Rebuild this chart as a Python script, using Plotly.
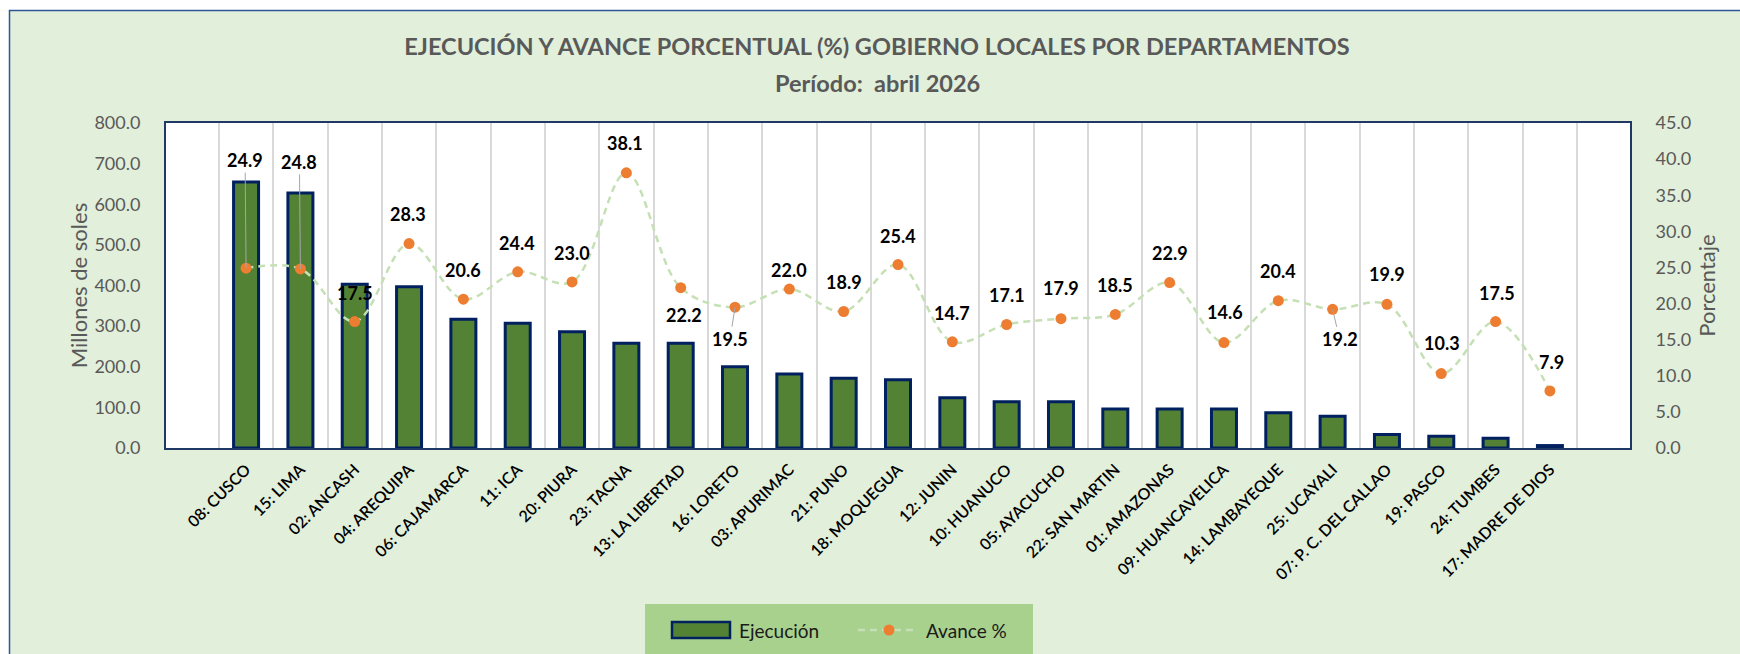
import plotly.graph_objects as go
from plotly.subplots import make_subplots

# ---------------- data ----------------
departamentos = [
    "08: CUSCO", "15: LIMA", "02: ANCASH", "04: AREQUIPA", "06: CAJAMARCA",
    "11: ICA", "20: PIURA", "23: TACNA", "13: LA LIBERTAD", "16: LORETO",
    "03: APURIMAC", "21: PUNO", "18: MOQUEGUA", "12: JUNIN", "10: HUANUCO",
    "05: AYACUCHO", "22: SAN MARTIN", "01: AMAZONAS", "09: HUANCAVELICA",
    "14: LAMBAYEQUE", "25: UCAYALI", "07: P. C. DEL CALLAO", "19: PASCO",
    "24: TUMBES", "17: MADRE DE DIOS",
]
ejecucion = [655, 628, 403, 397, 317, 307, 286, 258, 258, 200,
             182, 172, 168, 124, 114, 114, 96, 96, 96, 87,
             78, 33, 29, 24, 6]
avance = [24.9, 24.8, 17.5, 28.3, 20.6, 24.4, 23.0, 38.1, 22.2, 19.5,
          22.0, 18.9, 25.4, 14.7, 17.1, 17.9, 18.5, 22.9, 14.6, 20.4,
          19.2, 19.9, 10.3, 17.5, 7.9]
serie_bar = "Ejecución"
serie_line = "Avance %"

# label placement (styling): pixel offsets of each data label from its marker
label_dx = [-1, -1, 0, -1, 0, -1, 0, -1, 3, -5,
            0, 0, 0, 0, 0, 0, 0, 0, 1, 0,
            7, 0, 1, 1, 2]
label_dy = [-108, -107, -29, -30, -29, -29, -29, -30, 27, 32,
            -19, -30, -29, -29, -30, -31, -29, -30, -31, -30,
            30, -30, -31, -29, -29]
leader = [True, True, False, False, False, False, False, False, False, True,
          False, False, False, False, False, False, False, False, False, False,
          True, False, False, False, False]

# ---------------- layout geometry ----------------
W, H = 1740, 654
ML, MR, MT, MB = 166, 110, 123, 206
PW, PH = W - ML - MR, H - MT - MB


def px2x(px):
    return (px - ML) / PW


def py2y(py):
    return (H - MB - py) / PH


FONT = "Lato"
GREY = "#595959"
NAVY = "#002060"
BAR_FILL = "#548235"
LINE_COL = "#C5E0B4"
MARK_COL = "#ED7D31"

fig = make_subplots(specs=[[{"secondary_y": True}]])

fig.add_trace(
    go.Bar(
        x=departamentos, y=ejecucion, name=serie_bar, showlegend=False,
        marker=dict(color=BAR_FILL, line=dict(color=NAVY, width=3)),
    ),
    secondary_y=False,
)
fig.add_trace(
    go.Scatter(
        x=departamentos, y=avance, name=serie_line, mode="lines+markers", showlegend=False,
        line=dict(color=LINE_COL, width=2.5, dash="7px,5px", shape="spline", smoothing=1),
        marker=dict(color=MARK_COL, size=11),
    ),
    secondary_y=True,
)

annotations = []
for cat, v, dx, dy, ld in zip(departamentos, avance, label_dx, label_dy, leader):
    annotations.append(dict(
        x=cat, y=v, xref="x", yref="y2", text=f"<b>{v:.1f}</b>",
        showarrow=True, ax=dx, ay=dy, arrowhead=0, arrowwidth=1, standoff=0,
        arrowcolor="#A6A6A6" if ld else "rgba(0,0,0,0)",
        font=dict(family=FONT, size=18, color="#000000"),
    ))

annotations.append(dict(
    text="<b>Período:&nbsp; abril 2026</b>", xref="paper", yref="paper",
    x=px2x(877), y=py2y(83), xanchor="center", yanchor="middle", showarrow=False,
    font=dict(family=FONT, size=23.5, color=GREY),
))

# legend texts
for txt, left in ((serie_bar, 737), (serie_line, 924)):
    annotations.append(dict(
        text=txt, xref="paper", yref="paper", x=px2x(left), y=py2y(630),
        xanchor="left", yanchor="middle", showarrow=False,
        font=dict(family=FONT, size=19, color="#1A1A1A"),
    ))

shapes = [
    # white outside the chart-area border
    dict(type="rect", xref="paper", yref="paper", layer="below",
         x0=px2x(-20), x1=px2x(1800), y0=py2y(10.5), y1=py2y(-20),
         fillcolor="white", line=dict(width=0)),
    dict(type="rect", xref="paper", yref="paper", layer="below",
         x0=px2x(-20), x1=px2x(9.5), y0=py2y(700), y1=py2y(10.5),
         fillcolor="white", line=dict(width=0)),
    # chart-area border
    dict(type="rect", xref="paper", yref="paper", layer="above",
         x0=px2x(9.5), x1=px2x(1800), y0=py2y(720), y1=py2y(10.5),
         fillcolor="rgba(0,0,0,0)", line=dict(color="#2F5597", width=1.5)),
    # legend background box
    dict(type="rect", xref="paper", yref="paper", layer="below",
         x0=px2x(645), x1=px2x(1033), y0=py2y(680), y1=py2y(604),
         fillcolor="#A9D18E", line=dict(width=0)),
    # legend symbol: bar
    dict(type="rect", xref="paper", yref="paper", layer="above",
         x0=px2x(672), x1=px2x(730), y0=py2y(638), y1=py2y(622),
         fillcolor=BAR_FILL, line=dict(color=NAVY, width=2.5)),
    # legend symbol: dashed line
    dict(type="line", xref="paper", yref="paper", layer="above",
         x0=px2x(858), x1=px2x(918), y0=py2y(630), y1=py2y(630),
         line=dict(color=LINE_COL, width=2.5, dash="7px,5px")),
    # legend symbol: marker
    dict(type="circle", xref="paper", yref="paper", layer="above",
         x0=px2x(883.5), x1=px2x(894.5), y0=py2y(635.5), y1=py2y(624.5),
         fillcolor=MARK_COL, line=dict(width=0)),
]

fig.update_layout(
    width=W, height=H, autosize=False,
    margin=dict(l=ML, r=MR, t=MT, b=MB, pad=0),
    paper_bgcolor="#E2EFDA", plot_bgcolor="white",
    bargap=0.54, showlegend=False,
    title=dict(
        text="<b>EJECUCIÓN Y AVANCE PORCENTUAL (%) GOBIERNO LOCALES POR DEPARTAMENTOS</b>",
        x=877 / W, xanchor="center", y=1 - 47 / H, yanchor="middle",
        xref="container", yref="container",
        font=dict(family=FONT, size=23.5, color=GREY),
    ),
    annotations=annotations,
    shapes=shapes,
)

fig.update_xaxes(
    type="category", tickson="boundaries", showgrid=True, gridcolor="#D9D9D9", gridwidth=1.5,
    ticks="", tickangle=-45, ticklabelstandoff=4,
    tickfont=dict(family=FONT, size=16, color="#000000", weight=600),
    showline=True, linecolor="#203864", linewidth=2, mirror=True, automargin=False,
    domain=[0, 1],
)
fig.update_yaxes(
    range=[0, 800], dtick=100, tickformat=".1f", showgrid=False, zeroline=False,
    ticks="", ticklabelstandoff=20, automargin=False,
    tickfont=dict(family=FONT, size=18, color=GREY),
    showline=True, linecolor="#203864", linewidth=2,
    title=dict(text="Millones de soles", font=dict(family=FONT, size=22, color=GREY), standoff=1),
    secondary_y=False,
)
fig.update_yaxes(
    range=[0, 45], dtick=5, tickformat=".1f", showgrid=False, zeroline=False,
    ticks="", ticklabelstandoff=20, automargin=False,
    tickfont=dict(family=FONT, size=18, color=GREY),
    showline=True, linecolor="#203864", linewidth=2,
    title=dict(text="Porcentaje", font=dict(family=FONT, size=22, color=GREY), standoff=9),
    secondary_y=True,
)

fig.write_html(
    "out.html",
    config={"displayModeBar": False},
    post_script="document.body.style.margin='0px'; document.body.style.overflow='hidden';",
)
